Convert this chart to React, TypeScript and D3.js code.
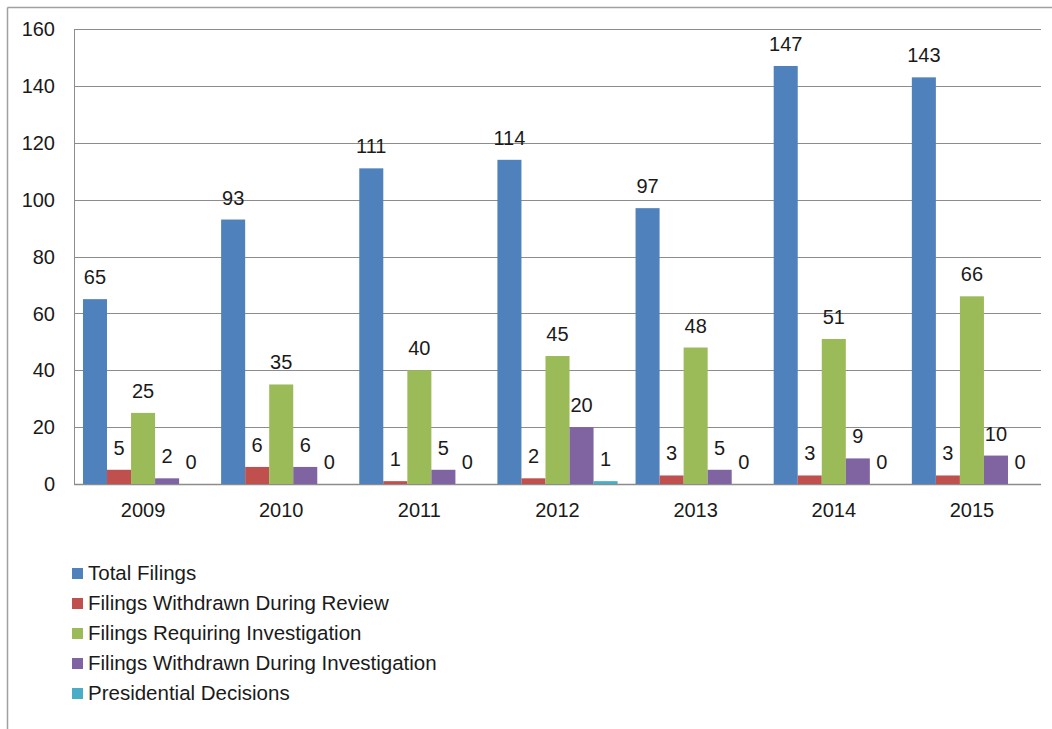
import React from "react";
import * as d3 from "d3";

const years = ["2009", "2010", "2011", "2012", "2013", "2014", "2015"];
const seriesNames = [
  "Total Filings",
  "Filings Withdrawn During Review",
  "Filings Requiring Investigation",
  "Filings Withdrawn During Investigation",
  "Presidential Decisions",
];
const totalFilings = [65, 93, 111, 114, 97, 147, 143];
const withdrawnReview = [5, 6, 1, 2, 3, 3, 3];
const requiringInvestigation = [25, 35, 40, 45, 48, 51, 66];
const withdrawnInvestigation = [2, 6, 5, 20, 5, 9, 10];
const presidentialDecisions = [0, 0, 0, 1, 0, 0, 0];
const yTicks = [0, 20, 40, 60, 80, 100, 120, 140, 160];
const colors = ["#4F81BD", "#C0504D", "#9BBB59", "#8064A2", "#4BACC6"];

const W = 1052;
const H = 729;
const FONT = "'Liberation Sans', Arial, sans-serif";

export default function App() {
  const series = [
    totalFilings,
    withdrawnReview,
    requiringInvestigation,
    withdrawnInvestigation,
    presidentialDecisions,
  ];
  const left = 74;
  const right = 1041;
  const top = 29;
  const bottom = 484;

  const x0 = d3.scaleBand().domain(years).range([left, right]).paddingInner(0.13).paddingOuter(0.065);
  const x1 = d3
    .scaleBand()
    .domain(seriesNames)
    .range([0, x0.bandwidth()]);
  const y = d3.scaleLinear().domain([0, 160]).range([bottom, top]);

  return (
    <svg
      width={W}
      height={H}
      style={{ position: "absolute", left: 0, top: 0, background: "#fff" }}
      fontFamily={FONT}
    >
      {/* outer frame */}
      <line x1={7.5} y1={7.5} x2={W} y2={7.5} stroke="#a0a0a0" strokeWidth={1.5} />
      <line x1={7.5} y1={7.5} x2={7.5} y2={H} stroke="#a0a0a0" strokeWidth={1.5} />

      {/* gridlines */}
      {yTicks.map((t) => (
        <g key={t}>
          <line
            x1={left}
            x2={right}
            y1={Math.round(y(t)) + 0.5}
            y2={Math.round(y(t)) + 0.5}
            stroke="#8c8c8c"
            strokeWidth={t === 0 ? 1.5 : 1}
          />
          <text x={55} y={y(t)} dy="0.36em" textAnchor="end" fontSize={20} fill="#1a1a1a">
            {t}
          </text>
        </g>
      ))}
      <line x1={left + 0.5} x2={left + 0.5} y1={top} y2={bottom} stroke="#8c8c8c" />

      {/* bars */}
      {years.map((yr, i) => (
        <g key={yr} transform={`translate(${x0(yr)},0)`}>
          {series.map((s, j) => {
            const v = s[i];
            const bx = x1(seriesNames[j])!;
            return (
              <g key={j}>
                <rect
                  x={bx}
                  y={y(v)}
                  width={x1.bandwidth()}
                  height={bottom - y(v)}
                  fill={colors[j]}
                />
                <text
                  x={bx + x1.bandwidth() / 2}
                  y={y(v) - 15}
                  textAnchor="middle"
                  fontSize={20}
                  fill="#1a1a1a"
                >
                  {v}
                </text>
              </g>
            );
          })}
          <text
            x={x0.bandwidth() / 2}
            y={517}
            textAnchor="middle"
            fontSize={20}
            fill="#1a1a1a"
          >
            {yr}
          </text>
        </g>
      ))}

      {/* legend */}
      {seriesNames.map((name, j) => (
        <g key={name} transform={`translate(72, ${573 + j * 30})`}>
          <rect x={0} y={-5} width={11} height={11} fill={colors[j]} />
          <text x={16} y={0} dy="0.36em" fontSize={20.5} fill="#1a1a1a">
            {name}
          </text>
        </g>
      ))}
    </svg>
  );
}
